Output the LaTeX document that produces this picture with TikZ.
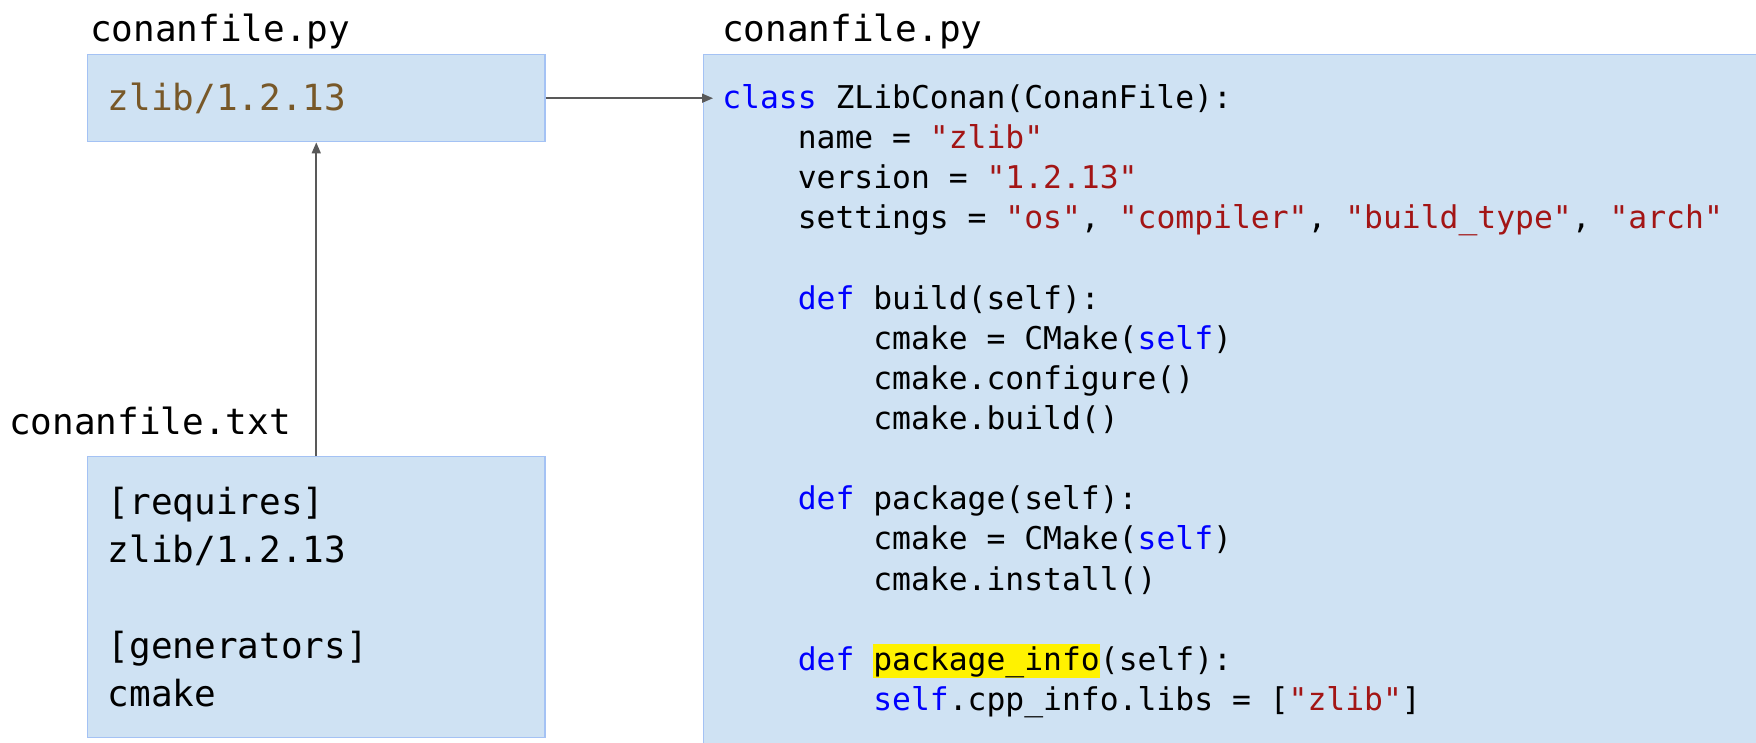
\documentclass[tikz,border=0pt]{standalone}
\usepackage{fontspec}
\setmonofont{DejaVu Sans Mono}
\usetikzlibrary{arrows.meta,positioning}
\definecolor{boxfill}{RGB}{207,226,243}
\definecolor{boxline}{RGB}{164,194,244}
\definecolor{kwblue}{RGB}{0,0,255}
\definecolor{strred}{RGB}{163,21,21}
\definecolor{pkgbrown}{RGB}{120,88,40}
\definecolor{arrowgray}{RGB}{89,89,89}
\newcommand{\kw}[1]{\textcolor{kwblue}{#1}}
\newcommand{\strlit}[1]{\textcolor{strred}{"#1"}}
\newcommand{\hlt}[1]{{\setlength{\fboxsep}{0pt}\colorbox{yellow}{\rule[-0.26em]{0pt}{1.1em}#1}}}
\newcommand{\tb}{\phantom{xxxx}}

\begin{document}
\begin{tikzpicture}[x=0.025cm,y=-0.025cm,>={Triangle[length=7.8pt,width=6.4pt]},
  filebox/.style={draw=boxline,fill=boxfill,line width=1pt,anchor=north west},
  filename/.style={font=\ttfamily\fontsize{25.6}{30}\selectfont,anchor=base west,inner sep=0pt},
  conn/.style={->,arrowgray,line width=1.1pt}]
\clip (0,0) rectangle (1756,743);
\fill[white] (0,0) rectangle (1756,743);
% linke Seite: Rezept-Referenz und conanfile.txt
\node[filename] (pyname) at (90,41) {conanfile.py};
\node[filebox,minimum width=11.425cm,minimum height=2.175cm,inner xsep=0.5cm,
  text width=10.425cm,align=left,text=pkgbrown,
  font=\ttfamily\fontsize{25.6}{30}\selectfont] (pybox) at (87,54) {zlib/1.2.13};
\node[filename] (txtname) at (9,434) {conanfile.txt};
\node[filebox,minimum width=11.425cm,minimum height=7.025cm,inner xsep=0.5cm,
  text width=10.425cm,align=left,
  font=\ttfamily\fontsize{25.6}{34.1}\selectfont] (txtbox) at (87,456)
  {{[requires]}\\ zlib/1.2.13\\ \mbox{}\\ {[generators]}\\ cmake};
% rechte Seite: das Rezept selbst
\node[filename] (recipename) at (722,41) {conanfile.py};
\node[filebox,minimum width=27.5cm,minimum height=18.75cm] (codebox) at (703,54) {};
\node[anchor=north west,inner sep=0pt,align=left,
  font=\ttfamily\fontsize{22.3}{28.55}\selectfont] (codetext) at (722,84)
  {\kw{class} ZLibConan(ConanFile):\\
   \tb name = \strlit{zlib}\\
   \tb version = \strlit{1.2.13}\\
   \tb settings = \strlit{os}, \strlit{compiler}, \strlit{build\_type}, \strlit{arch}\\
   \mbox{}\\
   \tb\kw{def} build(self):\\
   \tb\tb cmake = CMake(\kw{self})\\
   \tb\tb cmake.configure()\\
   \tb\tb cmake.build()\\
   \mbox{}\\
   \tb\kw{def} package(self):\\
   \tb\tb cmake = CMake(\kw{self})\\
   \tb\tb cmake.install()\\
   \mbox{}\\
   \tb\kw{def} \hlt{package\_info}(self):\\
   \tb\tb\kw{self}.cpp\_info.libs = [\strlit{zlib}]};
% Pfeile
\draw[conn] (txtbox.north) -- (pybox.south);
\draw[conn] (pybox.east) -- ([xshift=0.25cm]pybox.east -| codebox.west);
\end{tikzpicture}
\end{document}
